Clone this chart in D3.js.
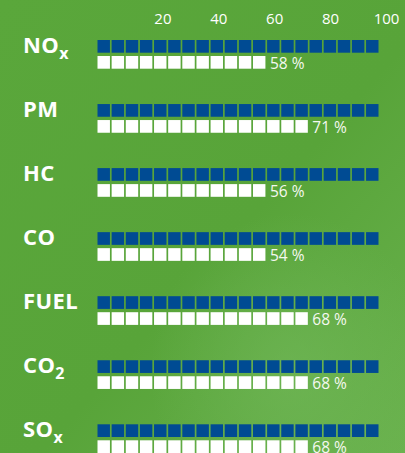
<!DOCTYPE html>
<html><head><meta charset="utf-8">
<script src="https://cdn.jsdelivr.net/npm/d3@7"></script>
<style>html,body{margin:0;padding:0;overflow:hidden;background:#5ba63b}</style>
</head><body>
<svg id="c" width="405" height="453"></svg>
<script>
const labels = ["NO", "PM", "HC", "CO", "FUEL", "CO", "SO"];
const subscripts = ["x", "", "", "", "", "2", "x"];
const percents = [58, 71, 56, 54, 68, 68, 68];
const filledSquares = [12, 15, 12, 12, 15, 15, 15];
const totalSquares = 20;
const tickValues = [20, 40, 60, 80, 100];

const svg = d3.select("#c");
const defs = svg.append("defs");
const g1 = defs.append("linearGradient").attr("id","bg").attr("x1","0").attr("y1","0").attr("x2","1").attr("y2","1");
g1.append("stop").attr("offset","0").attr("stop-color","#5aa73b");
g1.append("stop").attr("offset","0.55").attr("stop-color","#58a439");
g1.append("stop").attr("offset","1").attr("stop-color","#6ab24e");
svg.append("rect").attr("width",405).attr("height",453).attr("fill","url(#bg)");
const rg = defs.append("radialGradient").attr("id","glow").attr("cx","0.72").attr("cy","0.82").attr("r","0.35");
rg.append("stop").attr("offset","0").attr("stop-color","#72b85a").attr("stop-opacity",0.6);
rg.append("stop").attr("offset","1").attr("stop-color","#72b85a").attr("stop-opacity",0);
svg.append("rect").attr("width",405).attr("height",453).attr("fill","url(#glow)");

const font = "'Open Sans', sans-serif";
const xTick = d3.scaleLinear().domain([0,100]).range([107, 386.5]);
const xSq = d3.scaleBand().domain(d3.range(totalSquares)).range([97.5, 378.5]).paddingInner(0.12).paddingOuter(0);
const yRow = d3.scaleBand().domain(d3.range(labels.length)).range([40, 40 + 64.05*labels.length]).paddingInner(0);
const sqH = 12.7, gapY = 3.3;

svg.append("g").selectAll("text").data(tickValues).join("text")
  .attr("x", d => xTick(d)).attr("y", 24)
  .attr("text-anchor","middle").attr("fill","#ffffff")
  .attr("font-family", font).attr("font-size", 15).text(d => d);

const rows = svg.append("g").selectAll("g").data(labels).join("g")
  .attr("transform", (d,i) => `translate(0,${yRow(i)})`);

rows.append("text").attr("x", 23).attr("y", 12.8)
  .attr("fill","#fff").attr("font-family", font).attr("font-weight", 700)
  .attr("font-size", 22).attr("letter-spacing", 0.4)
  .each(function(d,i){
    const t = d3.select(this);
    t.append("tspan").text(d);
    if (subscripts[i]) t.append("tspan").attr("font-size", 16).attr("dy", 6).attr("dx", 0).text(subscripts[i]);
  });

rows.append("g").selectAll("rect").data(d3.range(totalSquares)).join("rect")
  .attr("x", k => xSq(k)).attr("y", 0).attr("width", xSq.bandwidth()).attr("height", sqH)
  .attr("fill", "#004b93");

rows.append("g").selectAll("rect").data((d,i) => d3.range(filledSquares[i])).join("rect")
  .attr("x", k => xSq(k)).attr("y", sqH + gapY).attr("width", xSq.bandwidth()).attr("height", sqH)
  .attr("fill", "#ffffff");

rows.append("text")
  .attr("x", (d,i) => xSq(filledSquares[i]-1) + xSq.bandwidth() + 4.5)
  .attr("y", sqH + gapY + 12.8)
  .attr("fill","#f4f8f0").attr("font-family", font).attr("font-size", 15.5).attr("font-weight", 400)
  .text((d,i) => percents[i] + " %");
</script>
</body></html>
